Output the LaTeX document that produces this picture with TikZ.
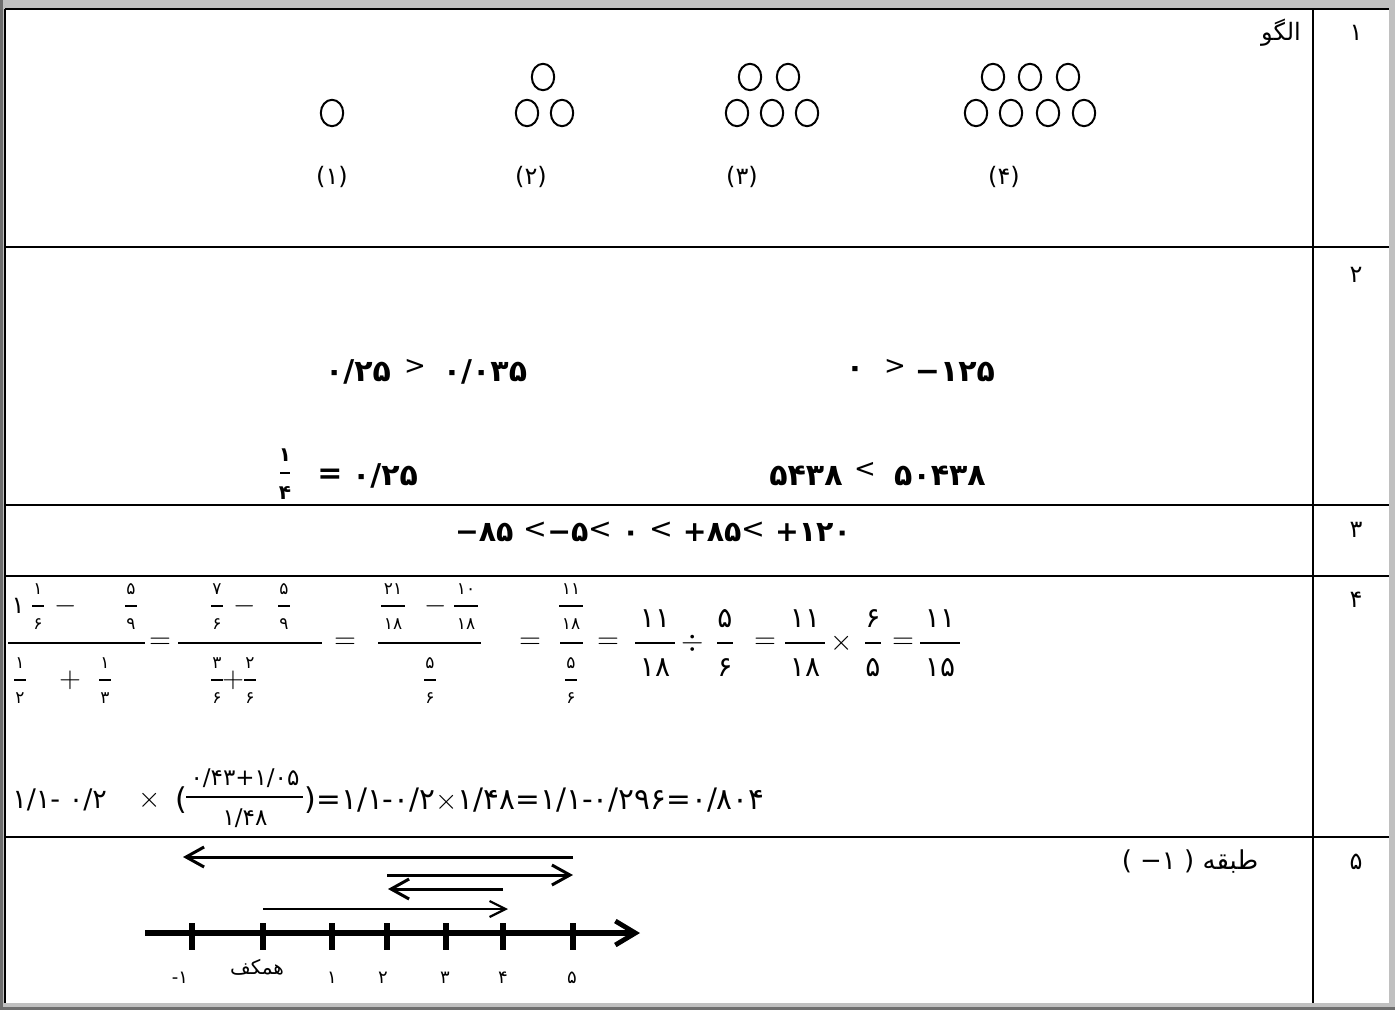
\documentclass[tikz,border=0pt]{standalone}
\usepackage{fontspec}
\usetikzlibrary{arrows.meta}
\TeXXeTstate=1
\newfontfamily\fa[Script=Arabic]{DejaVu Sans}
\newfontfamily\fn{DejaVu Sans}
\definecolor{framegray}{HTML}{C0C0C0}
\definecolor{edgegray}{HTML}{6E6E6E}

\begin{document}
\begin{tikzpicture}[
  x=0.5pt, y=-0.5pt,
  every node/.style={inner sep=0pt},
  rule line/.style={line width=1.3pt},
  bead/.style={line width=1pt},
  frac bar/.style={line width=0.9pt},
  row num/.style={font=\fontsize{12}{14}\selectfont\fn},
  big digit/.style={font=\fontsize{14}{16}\selectfont\fn},
  small digit/.style={font=\fontsize{8.5}{10}\selectfont\fn},
  bold digit/.style={font=\fontsize{15}{17}\selectfont\fn\bfseries},
  thin sign/.style={font=\fontsize{13}{15}\selectfont\fn},
  line text/.style={font=\fontsize{14.8}{17}\selectfont\fn},
  sym/.style={font=\fontsize{15}{17}\selectfont},
  axis/.style={line width=2.6pt, -{Straight Barb[length=10pt,width=12pt,line width=2.4pt]}},
  tick/.style={line width=2.6pt},
  jump/.style={line width=1.5pt, -{Straight Barb[length=9pt,width=10pt,line width=1.5pt]}},
  short jump/.style={line width=1.1pt, -{Straight Barb[length=8pt,width=8pt,line width=1.1pt]}}
  ]
  \useasboundingbox (0,0) rectangle (1395,1010);
  % frame and table
  \fill[framegray] (0,0) rectangle (1395,1010);
  \fill[edgegray] (0,0) rectangle (3,1010);
  \fill[edgegray] (0,1007) rectangle (1395,1010);
  \fill[white] (5,9) rectangle (1389,1003);
  \draw[rule line] (5,9) -- (1389,9);
  \draw[rule line] (5,9) -- (5,1003);
  \draw[rule line] (1313,9) -- (1313,1003);
  \foreach \y in {247,505,576,837}
    \draw[rule line] (5,\y) -- (1389,\y);

  % row numbers
  \foreach \y/\n [count=\i] in {33/۱,275/۲,530/۳,600/۴,862/۵}
    \node[row num] (r\i) at (1356,\y) {\n};

  % row 1
  \node[row num] (pattern) at (1281,33) {\fa\beginR الگو\endR};
  \foreach \x/\y in {332/113, 543/77, 527/113, 562/113,
      750/77, 788/77, 737/113, 772/113, 807/113,
      993/77, 1030/77, 1068/77, 976/113, 1011/113, 1048/113, 1084/113}
    \draw[bead] (\x,\y) ellipse [x radius=5.6pt, y radius=6.6pt];
  \foreach \x/\n [count=\i] in {332/۱,531/۲,742/۳,1004/۴}
    \node[font=\fontsize{12}{14}\selectfont\fn] (step\i) at (\x,177) {(\n)};

  % row 2
  \foreach \x/\y/\n [count=\i] in {358/372/{۰/۲۵}, 485/372/{۰/۰۳۵}, 855/372/۰, 955/372/−۱۲۵,
      385/476/{۰/۲۵}, 806/476/۵۴۳۸, 940/476/۵۰۴۳۸, 330/476/=}
    \node[bold digit] (cmp\i) at (\x,\y) {\n};
  \foreach \x/\y/\s [count=\i] in {415/367/>, 895/367/>, 865/470/<}
    \node[thin sign] (rel\i) at (\x,\y) {\s};
  \node[bold digit, font=\fontsize{10}{12}\selectfont\fn\bfseries] (qn) at (285,455) {۱};
  \draw[line width=1.3pt] (280,473) -- (290,473);
  \node[bold digit, font=\fontsize{10}{12}\selectfont\fn\bfseries] (qd) at (285,493) {۴};

  % row 3
  \node[bold digit, font=\fontsize{14.2}{16}\selectfont\fn\bfseries] (order) at (653,532)
    {−۸۵ {\mdseries\raisebox{1.5pt}{<}}−۵{\mdseries\raisebox{1.5pt}{<}} ۰ {\mdseries\raisebox{1.5pt}{<}} +۸۵{\mdseries\raisebox{1.5pt}{<}} +۱۲۰};

  % row 4, small fractions
  \foreach \x/\y/\w/\n/\d [count=\i] in {38/606/6/۱/۶, 131/606/6/۵/۹, 20/680/6/۱/۲, 105/680/6/۱/۳,
      217/606/6/۷/۶, 284/606/6/۵/۹, 217/680/6/۳/۶, 250/680/6/۲/۶,
      393/606/12/۲۱/۱۸, 466/606/12/۱۰/۱۸, 430/680/6/۵/۶,
      571/606/12/۱۱/۱۸, 571/680/6/۵/۶}
  {
    \node[small digit] (sn\i) at (\x,\y-17) {\n};
    \draw[frac bar] (\x-\w,\y) -- (\x+\w,\y);
    \node[small digit] (sd\i) at (\x,\y+18) {\d};
  }
  \node[big digit, font=\fontsize{12}{14}\selectfont\fn] (whole) at (18,606) {۱};
  \foreach \x/\y/\s [count=\i] in {66/606/-, 70/680/+, 245/606/-, 233/680/+, 436/606/-}
    \node[sym] (op\i) at (\x,\y) {$\s$};
  % main bars
  \draw[frac bar] (8,643) -- (145,643);
  \draw[frac bar] (178,643) -- (322,643);
  \draw[frac bar] (378,643) -- (481,643);
  \draw[frac bar] (560,643) -- (583,643);
  % big fractions
  \foreach \x/\w/\n/\d [count=\i] in {655/20/۱۱/۱۸, 725/8/۵/۶, 805/20/۱۱/۱۸, 873/8/۶/۵, 940/20/۱۱/۱۵}
  {
    \node[big digit] (bn\i) at (\x,619) {\n};
    \draw[frac bar] (\x-\w,643) -- (\x+\w,643);
    \node[big digit] (bd\i) at (\x,668) {\d};
  }
  \foreach \x/\s [count=\i] in {160/=, 345/=, 530/=, 608/=, 693/\div, 765/=, 842/\times, 903/=}
    \node[sym] (eq\i) at (\x,643) {$\s$};

  % row 4, second line
  \node[line text, font=\fontsize{13.5}{16}\selectfont\fn, anchor=west] (calc1) at (12,800) {\beginL ۱/۱- ۰/۲\endL};
  \node[sym] (times1) at (150,800) {$\times$};
  \node[line text, font=\fontsize{15}{17}\selectfont\fn] (lpar) at (181,800) {(};
  \node[line text, font=\fontsize{11.5}{13}\selectfont\fn] (calcn) at (245,778) {۰/۴۳+۱/۰۵};
  \draw[frac bar] (186,797) -- (303,797);
  \node[line text, font=\fontsize{11.5}{13}\selectfont\fn] (calcd) at (245,818) {۱/۴۸};
  \node[line text, font=\fontsize{15}{17}\selectfont\fn] (rpar) at (310,800) {)};
  \node[line text, anchor=west] (calc2) at (316,800) {\beginL =۱/۱-۰/۲$\times$۱/۴۸=۱/۱-۰/۲۹۶=۰/۸۰۴\endL};

  % row 5
  \node[row num, font=\fontsize{13}{15}\selectfont\fn] (floor) at (1190,862) {( −۱ ) \fa\beginR طبقه\endR};
  \draw[axis] (145,933) -- (640,933);
  \foreach \x [count=\i] in {192,263,332,387,446,503,573}
    \draw[tick] (\x,923) -- (\x,950);
  \foreach \x/\y/\n [count=\i] in {180/978/-۱, 332/978/۱, 383/978/۲, 445/978/۳, 503/978/۴, 572/978/۵}
    \node[small digit, font=\fontsize{9}{10}\selectfont\fn] (nl\i) at (\x,\y) {\n};
  \node[small digit, font=\fontsize{10}{12}\selectfont\fn] (ground) at (257,967) {\fa\beginR همکف\endR};
  \draw[jump] (573,857) -- (183,857);
  \draw[jump] (387,875) -- (573,875);
  \draw[jump] (503,889) -- (388,889);
  \draw[short jump] (263,909) -- (508,909);
\end{tikzpicture}
\end{document}
